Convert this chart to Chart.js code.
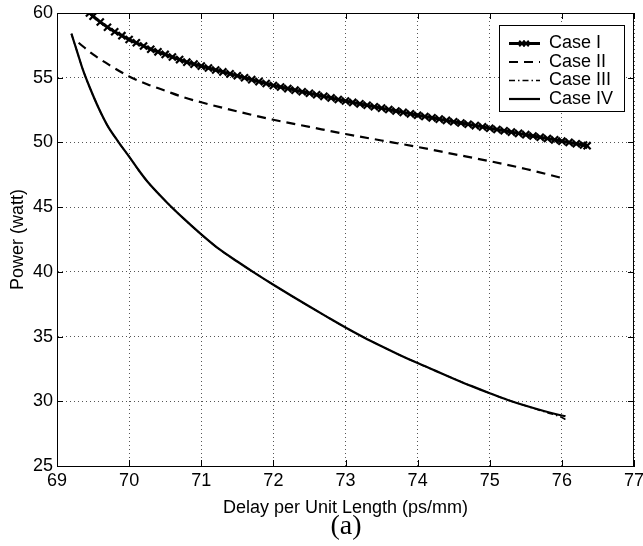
<!DOCTYPE html>
<html><head><meta charset="utf-8">
<script src="https://cdn.jsdelivr.net/npm/chart.js@4/dist/chart.umd.min.js"></script>
<style>html,body{margin:0;padding:0;background:#fff;}canvas{display:block;}</style>
</head><body>
<canvas id="c" width="643" height="546"></canvas>
<script>
const xTicks = [69,70,71,72,73,74,75,76,77];
const yTicks = [25,30,35,40,45,50,55,60];
const seriesLabels = ['Case I','Case II','Case III','Case IV'];
const xTitle = 'Delay per Unit Length (ps/mm)';
const yTitle = 'Power (watt)';
const caption = '(a)';

const case1X = [69.45,69.5,69.6,69.7,69.8,69.9,70.0,70.1,70.2,70.3,70.4,70.5,70.6,70.7,70.8,70.9,71.0,71.1,71.2,71.3,71.4,71.5,71.6,71.7,71.8,71.9,72.0,72.1,72.2,72.3,72.4,72.5,72.6,72.7,72.8,72.9,73.0,73.1,73.2,73.3,73.4,73.5,73.6,73.7,73.8,73.9,74.0,74.1,74.2,74.3,74.4,74.5,74.6,74.7,74.8,74.9,75.0,75.1,75.2,75.3,75.4,75.5,75.6,75.7,75.8,75.9,76.0,76.1,76.2,76.3,76.35];
const case1Y = [60.0,59.75,59.3,58.9,58.55,58.25,57.95,57.7,57.45,57.2,57.0,56.8,56.6,56.4,56.2,56.05,55.9,55.75,55.6,55.45,55.3,55.15,55.0,54.85,54.7,54.55,54.4,54.28,54.16,54.04,53.92,53.8,53.68,53.56,53.44,53.32,53.2,53.09,52.98,52.87,52.76,52.65,52.54,52.43,52.32,52.21,52.1,52.0,51.9,51.8,51.7,51.6,51.5,51.4,51.3,51.2,51.1,51.0,50.9,50.8,50.7,50.6,50.5,50.4,50.3,50.2,50.1,50.0,49.9,49.8,49.75];

const case2X = [69.3,69.5,69.75,70.0,70.25,70.5,70.75,71.0,71.5,72.0,72.5,73.0,73.5,74.0,74.5,75.0,75.5,76.0];
const case2Y = [57.7,56.8,55.9,55.1,54.5,54.0,53.5,53.1,52.4,51.75,51.2,50.65,50.15,49.65,49.1,48.55,47.95,47.25];

const case4X = [69.2,69.28,69.36,69.45,69.59,69.7,69.85,70.0,70.12,70.25,70.5,70.75,71.0,71.25,71.5,71.75,72.0,72.25,72.5,72.75,73.0,73.25,73.5,73.75,74.0,74.25,74.5,74.75,75.0,75.25,75.5,75.75,76.0,76.05];
const case4Y = [58.4,57.0,55.6,54.3,52.5,51.3,50.05,48.9,47.95,47.0,45.5,44.15,42.9,41.75,40.8,39.88,39.0,38.15,37.32,36.5,35.7,34.95,34.25,33.58,32.95,32.35,31.75,31.17,30.62,30.1,29.65,29.25,28.9,28.85];

const case3X = [69.2,69.28,69.36,69.45,69.59,69.7,69.85,70.0,70.12,70.25,70.5,70.75,71.0,71.25,71.5,71.75,72.0,72.25,72.5,72.75,73.0,73.25,73.5,73.75,74.0,74.25,74.5,74.75,75.0,75.25,75.5,75.75,76.0,76.05];
const case3Y = [58.4,57.0,55.6,54.3,52.5,51.3,50.05,48.9,47.95,47.0,45.5,44.15,42.9,41.75,40.8,39.88,39.0,38.15,37.32,36.5,35.7,34.95,34.25,33.58,32.95,32.35,31.75,31.17,30.62,30.1,29.65,29.2,28.75,28.6];

const pts = (xs, ys) => xs.map((x, i) => ({x, y: ys[i]}));
const FONT = "'Liberation Sans', Arial, sans-serif";

const framePlugin = {
  id: 'frame',
  afterDatasetsDraw(chart) {
    const {ctx, chartArea: a, scales: {x, y}} = chart;
    ctx.save();
    ctx.strokeStyle = '#000';
    ctx.lineWidth = 1;
    ctx.setLineDash([]);
    ctx.strokeRect(a.left + 0.5, a.top + 0.5, a.right - a.left - 1, a.bottom - a.top);
    ctx.beginPath();
    const L = 6;
    xTicks.forEach(v => {
      const px = Math.round(x.getPixelForValue(v)) + 0.5;
      ctx.moveTo(px, a.bottom); ctx.lineTo(px, a.bottom - L);
      ctx.moveTo(px, a.top); ctx.lineTo(px, a.top + L);
    });
    yTicks.forEach(v => {
      const py = Math.round(y.getPixelForValue(v)) + 0.5;
      ctx.moveTo(a.left, py); ctx.lineTo(a.left + L, py);
      ctx.moveTo(a.right, py); ctx.lineTo(a.right - L, py);
    });
    ctx.stroke();

    // legend
    const bx = 499.5, by = 25.5, bw = 125, bh = 86;
    ctx.fillStyle = '#fff';
    ctx.fillRect(bx, by, bw, bh);
    ctx.strokeRect(bx, by, bw, bh);
    const rows = [43.5, 62, 80.5, 99];
    chart.data.datasets.forEach((ds, i) => {
      const ry = rows[i];
      ctx.save();
      ctx.strokeStyle = '#000';
      ctx.lineWidth = ds.borderWidth;
      ctx.setLineDash(ds.borderDash || []);
      ctx.beginPath();
      ctx.moveTo(509, ry); ctx.lineTo(540, ry);
      ctx.stroke();
      ctx.setLineDash([]);
      if (ds.pointRadius > 0) {
        ctx.lineWidth = 2;
        Chart.helpers.drawPoint(ctx, {pointStyle: 'crossRot', radius: 4, borderWidth: 2}, 522, ry);
        Chart.helpers.drawPoint(ctx, {pointStyle: 'crossRot', radius: 4, borderWidth: 2}, 526, ry);
      }
      ctx.restore();
      ctx.fillStyle = '#000';
      ctx.font = '18px ' + FONT;
      ctx.textBaseline = 'middle';
      ctx.textAlign = 'left';
      ctx.fillText(ds.label, 549, ry);
    });

    // caption
    ctx.fillStyle = '#000';
    ctx.font = "28px 'Liberation Serif', 'Times New Roman', serif";
    ctx.textAlign = 'center';
    ctx.textBaseline = 'middle';
    ctx.fillText(caption, 346, 527);
    ctx.restore();
  }
};

new Chart(document.getElementById('c'), {
  type: 'scatter',
  data: {
    datasets: [
      {label: seriesLabels[0], data: pts(case1X, case1Y), showLine: true, borderColor: '#000', backgroundColor: '#000',
       borderWidth: 3, pointStyle: 'crossRot', pointRadius: 5, pointBorderWidth: 2.2, pointBorderColor: '#000', order: 1},
      {label: seriesLabels[1], data: pts(case2X, case2Y), showLine: true, borderColor: '#000', borderWidth: 2.2,
       borderDash: [9, 6], pointRadius: 0, order: 2, cubicInterpolationMode: 'monotone'},
      {label: seriesLabels[2], data: pts(case3X, case3Y), showLine: true, borderColor: '#000', borderWidth: 1.5,
       borderDash: [6, 3, 1.5, 3], pointRadius: 0, order: 3, cubicInterpolationMode: 'monotone'},
      {label: seriesLabels[3], data: pts(case4X, case4Y), showLine: true, borderColor: '#000', borderWidth: 2.2,
       pointRadius: 0, order: 4, cubicInterpolationMode: 'monotone'}
    ]
  },
  options: {
    responsive: false,
    animation: false,
    devicePixelRatio: 1,
    layout: {padding: {left: 0, right: 9, top: 13, bottom: 0}},
    plugins: {legend: {display: false}, tooltip: {enabled: false}, title: {display: false}},
    scales: {
      x: {
        type: 'linear', min: 69, max: 77,
        afterBuildTicks: s => { s.ticks = xTicks.map(v => ({value: v})); },
        afterFit: s => { s.height = 80; s.paddingLeft = 0; s.paddingRight = 0; },
        ticks: {color: '#000', font: {family: FONT, size: 18}, padding: 4, maxRotation: 0, autoSkip: false},
        grid: {color: '#555', lineWidth: 1, drawTicks: false},
        border: {display: true, color: '#000', dash: [1, 3]},
        title: {display: true, text: xTitle, color: '#000', font: {family: FONT, size: 18}, padding: {top: 0, bottom: 27}}
      },
      y: {
        type: 'linear', min: 25, max: 60,
        afterBuildTicks: s => { s.ticks = yTicks.map(v => ({value: v})); },
        afterFit: s => { s.width = 57; s.paddingTop = 0; s.paddingBottom = 0; },
        ticks: {color: '#000', font: {family: FONT, size: 18}, padding: 4},
        grid: {color: '#555', lineWidth: 1, drawTicks: false},
        border: {display: true, color: '#000', dash: [1, 3]},
        title: {display: true, text: yTitle, color: '#000', font: {family: FONT, size: 18}, padding: {top: 7, bottom: 0}}
      }
    }
  },
  plugins: [framePlugin]
});
</script>
</body></html>
